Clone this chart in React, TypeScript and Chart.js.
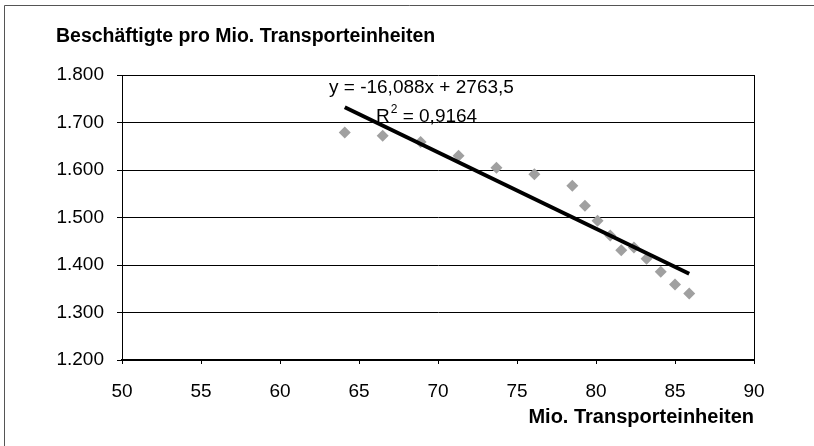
import React, { useEffect, useRef } from "react";
import { Chart, registerables } from "chart.js";

Chart.register(...registerables);

const chartTitle = "Beschäftigte pro Mio. Transporteinheiten";
const xAxisTitle = "Mio. Transporteinheiten";
const transportUnits = [64.1, 66.5, 68.9, 71.3, 73.7, 76.1, 78.5, 79.3, 80.1, 80.9, 81.6, 82.4, 83.2, 84.1, 85.0, 85.9];
const employeesPerUnit = [1679, 1672, 1659, 1630, 1605, 1591, 1567, 1525, 1493, 1462, 1431, 1437, 1413, 1386, 1359, 1340];
const trendSlope = -16.088;
const trendIntercept = 2763.5;
const equationText = "y = -16,088x + 2763,5";
const rSquaredText = "0,9164";
const yMin = 1200;
const yMax = 1800;
const yStep = 100;
const xMin = 50;
const xMax = 90;
const xStep = 5;

const FONT = "'Liberation Sans', Arial, sans-serif";

function formatThousands(v: number): string {
  const n = Math.round(v);
  const th = Math.floor(n / 1000);
  const rest = n % 1000;
  return th > 0 ? `${th}.${String(rest).padStart(3, "0")}` : String(rest);
}

export default function App() {
  const canvasRef = useRef<HTMLCanvasElement | null>(null);

  useEffect(() => {
    const canvas = canvasRef.current;
    if (!canvas) return;

    const scatterPoints = transportUnits.map((x, i) => ({ x, y: employeesPerUnit[i] }));
    const tMin = Math.min(...transportUnits);
    const tMax = Math.max(...transportUnits);
    const trendPoints = [tMin, tMax].map((x) => ({ x, y: trendSlope * x + trendIntercept }));

    const decorPlugin = {
      id: "decor",
      beforeDraw(chart: any) {
        const ctx = chart.ctx;
        ctx.save();
        ctx.fillStyle = "#ffffff";
        ctx.fillRect(0, 0, chart.width, chart.height);
        ctx.strokeStyle = "#555555";
        ctx.lineWidth = 1;
        ctx.beginPath();
        ctx.moveTo(4.5, chart.height);
        ctx.lineTo(4.5, 5.5);
        ctx.lineTo(chart.width, 5.5);
        ctx.stroke();
        ctx.restore();
      },
      beforeDatasetsDraw(chart: any) {
        const ctx = chart.ctx;
        const area = chart.chartArea;
        ctx.save();
        ctx.strokeStyle = "#000000";
        ctx.lineWidth = 1;
        ctx.beginPath();
        ctx.moveTo(Math.round(area.right) + 0.5, area.top);
        ctx.lineTo(Math.round(area.right) + 0.5, area.bottom);
        ctx.stroke();
        // trendline label
        ctx.fillStyle = "#000000";
        ctx.textBaseline = "middle";
        ctx.textAlign = "left";
        ctx.font = `19px ${FONT}`;
        ctx.fillText(equationText, 329, 88);
        ctx.fillText("R", 376, 117);
        const rW = ctx.measureText("R").width;
        ctx.font = `12px ${FONT}`;
        ctx.fillText("2", 376 + rW + 1, 110);
        const twoW = ctx.measureText("2").width;
        ctx.font = `19px ${FONT}`;
        ctx.fillText(" = " + rSquaredText, 376 + rW + 1 + twoW, 117);
        ctx.restore();
      },
    };

    const chart = new Chart(canvas, {
      type: "scatter",
      data: {
        datasets: [
          {
            type: "line",
            label: "Trend",
            data: trendPoints,
            borderColor: "#000000",
            borderWidth: 4,
            pointRadius: 0,
            fill: false,
            tension: 0,
          } as any,
          {
            label: "Beschäftigte",
            data: scatterPoints,
            pointStyle: "rectRot",
            pointRadius: 6,
            backgroundColor: "#a0a0a0",
            borderColor: "#a0a0a0",
            borderWidth: 0,
          },
        ],
      },
      options: {
        responsive: false,
        animation: false,
        devicePixelRatio: 1,
        layout: { padding: { left: 56, right: 60, top: 0, bottom: 0 } },
        plugins: {
          legend: { display: false },
          tooltip: { enabled: false },
          title: {
            display: true,
            text: chartTitle,
            align: "start",
            color: "#000000",
            font: { family: FONT, size: 19.5, weight: "bold", lineHeight: 1.2 },
            padding: { top: 25, bottom: 26.6 },
          },
        },
        scales: {
          x: {
            type: "linear",
            min: xMin,
            max: xMax,
            afterFit(scale: any) {
              scale.height = 86;
            },
            ticks: {
              stepSize: xStep,
              color: "#000000",
              padding: 16.3,
              maxRotation: 0,
              font: { family: FONT, size: 19, lineHeight: 1.2 },
            },
            grid: {
              drawOnChartArea: false,
              drawTicks: true,
              tickLength: 4,
              color: "#000000",
            },
            border: { display: true, color: "#000000", width: 2 },
            title: {
              display: true,
              text: xAxisTitle,
              align: "end",
              color: "#000000",
              font: { family: FONT, size: 20, weight: "bold", lineHeight: 1.2 },
              padding: { top: 0, bottom: 17 },
            },
          },
          y: {
            type: "linear",
            min: yMin,
            max: yMax,
            afterFit(scale: any) {
              scale.width = 66;
            },
            ticks: {
              stepSize: yStep,
              color: "#000000",
              padding: 13,
              font: { family: FONT, size: 19, lineHeight: 1.2 },
              callback: (v: any) => formatThousands(Number(v)),
            },
            grid: {
              drawOnChartArea: true,
              drawTicks: true,
              tickLength: 5,
              color: "#000000",
              lineWidth: 1,
            },
            border: { display: true, color: "#000000", width: 1 },
          },
        },
      } as any,
      plugins: [decorPlugin],
    });

    return () => {
      chart.destroy();
    };
  }, []);

  return (
    <div style={{ position: "absolute", left: 0, top: 0, width: 814, height: 446, background: "#ffffff" }}>
      <canvas ref={canvasRef} width={814} height={446} style={{ display: "block", width: 814, height: 446 }} />
    </div>
  );
}
